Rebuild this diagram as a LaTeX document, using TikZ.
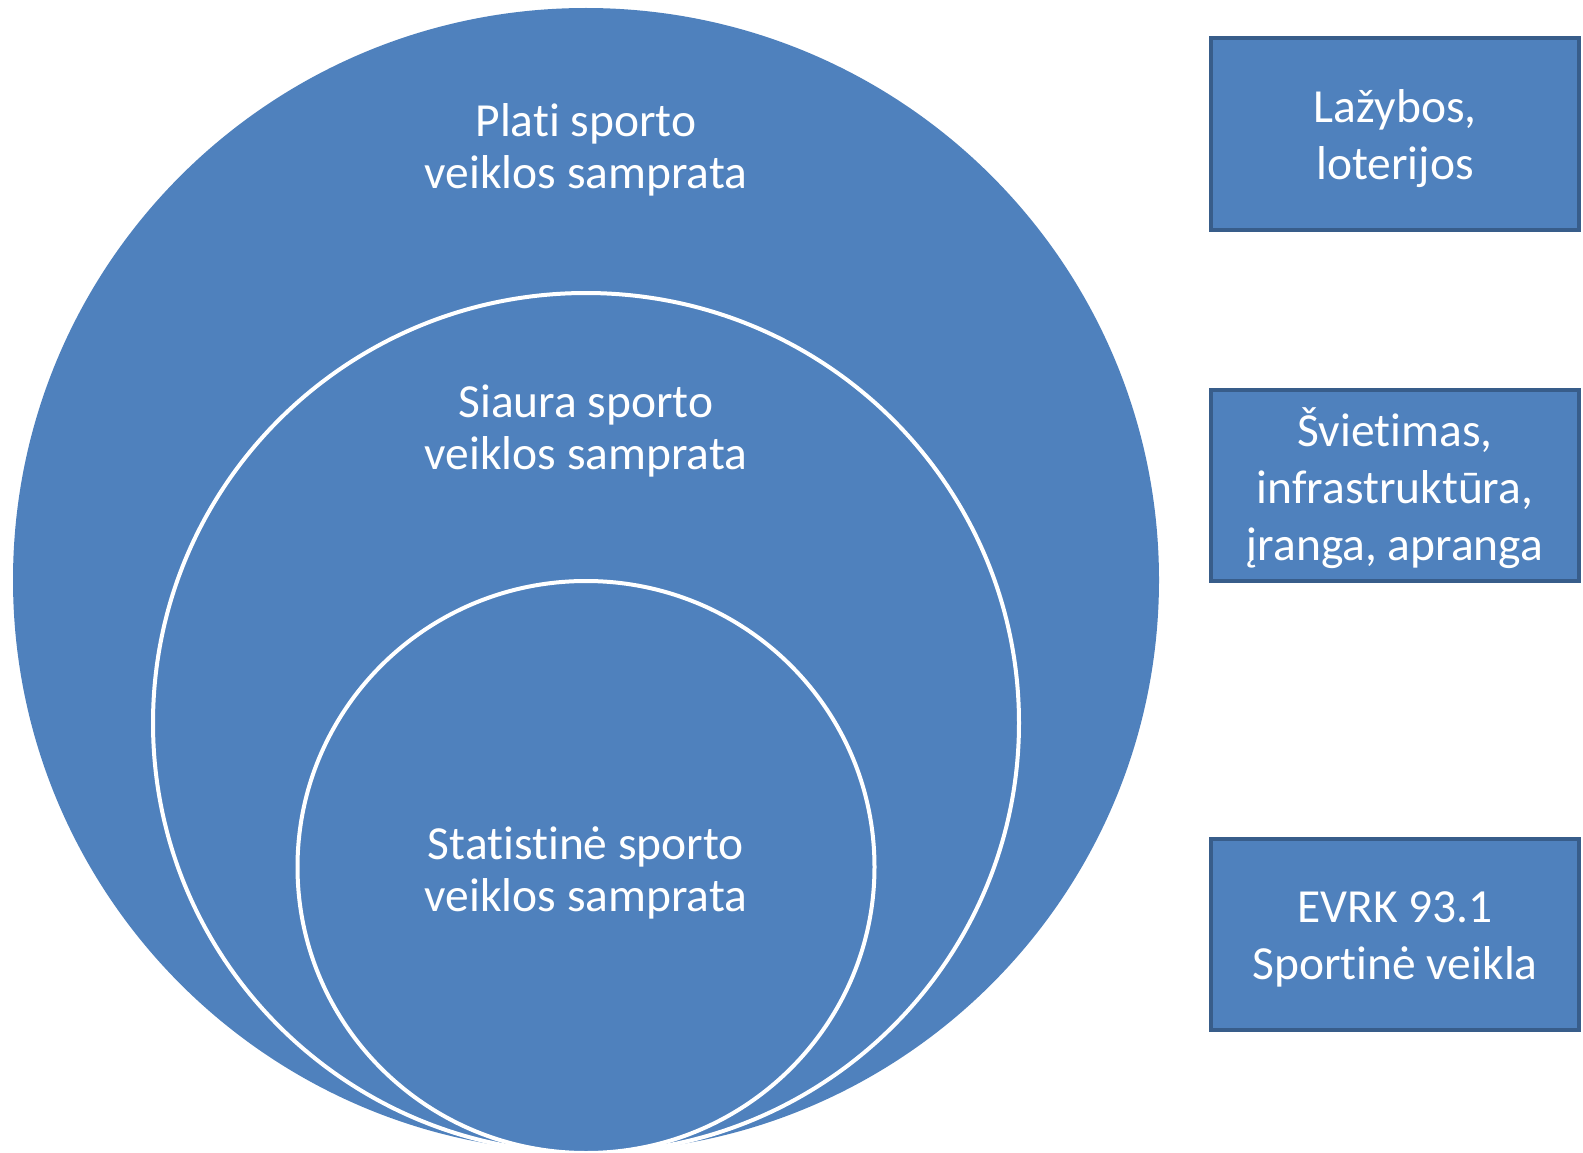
\documentclass[tikz,border=0pt]{standalone}
\usepackage{fontspec}
\setmainfont{Carlito}[Ligatures=NoCommon]
\definecolor{accfill}{HTML}{4F81BD}
\definecolor{accline}{HTML}{385D8A}
\begin{document}
\begin{tikzpicture}[x=1pt,y=-1pt,
  lbl/.style={text=white,align=center,font=\fontsize{47.5}{52.5}\selectfont},
  boxlbl/.style={text=white,align=center,font=\fontsize{47.5}{57}\selectfont},
  ring/.style={fill=accfill,draw=white,line width=4pt},
  sidebox/.style={fill=accfill,draw=accline,line width=4pt,minimum width=368pt,minimum height=191pt,inner sep=0pt}]
\useasboundingbox (0,0) rectangle (1583,1153);
\fill[accfill] (586,580) ellipse [x radius=573, y radius=572];
\path[ring] (586,723) ellipse [x radius=433, y radius=430];
\path[ring] (586,867) ellipse [x radius=288.5, y radius=286];
\node[lbl] (plati) at (586,150) {Plati sporto\\veiklos samprata};
\node[lbl] (siaura) at (586,431) {Siaura sporto\\veiklos samprata};
\node[lbl] (stat) at (586,873) {Statistinė sporto\\veiklos samprata};
\node[sidebox] (b1) at (1395,134) {};
\node[sidebox] (b2) at (1395,485) {};
\node[sidebox] (b3) at (1395,934) {};
\node[boxlbl] (t1) at ([yshift=-4.5]b1.center) {Lažybos,\\loterijos};
\node[boxlbl] (t2) at ([yshift=-3.5]b2.center) {Švietimas,\\infrastruktūra,\\įranga, apranga};
\node[boxlbl] (t3) at ([yshift=-5]b3.center) {EVRK 93.1\\Sportinė veikla};
\end{tikzpicture}
\end{document}
